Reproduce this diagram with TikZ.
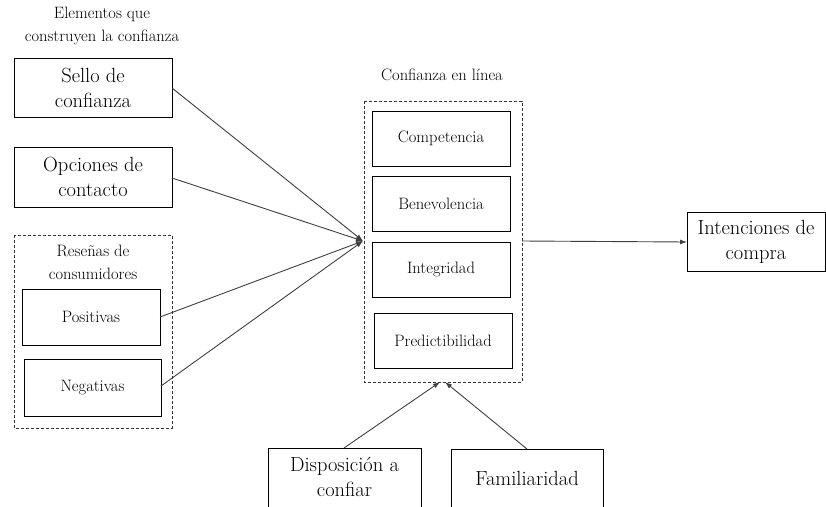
\documentclass[tikz,border=0pt]{standalone}
\usepackage{fontspec}
\usetikzlibrary{arrows.meta}
\tikzset{
  big/.style={font=\fontsize{20.5}{25}\selectfont},
  small/.style={font=\fontsize{16.5}{22.5}\selectfont},
  box/.style={draw=black, line width=0.9pt, inner sep=0pt},
  group/.style={draw=black!80, dashed, dash pattern=on 3pt off 2pt, line width=0.8pt},
  link/.style={draw=black!75, line width=0.9pt},
  tip/.style={-{Latex[length=7pt,width=5pt]}},
}
\begin{document}
\begin{tikzpicture}[x=1pt,y=-1pt]
\useasboundingbox (0,0) rectangle (826,506);
\clip (0,0) rectangle (826,506);
\fill[white] (0,0) rectangle (826,506);

% heading of the left column
\node[small, align=center] (hdr) at (102,26) {Elementos que\\construyen la confianza};

% left column boxes
\draw[box] (14,58) rectangle (172,117);
\node[big, align=center] (sello) at (93,87.5) {Sello de\\confianza};
\coordinate (selloE) at (172,88);

\draw[box] (14,147) rectangle (172,207);
\node[big, align=center] (opc) at (93,177) {Opciones de\\contacto};
\coordinate (opcE) at (172,178);

% consumer reviews group
\draw[group] (14,235) rectangle (172,428);
\node[small, align=center] (res) at (93,262.5) {Reseñas de\\consumidores};
\draw[box] (22,289) rectangle (160,345);
\node[small] (pos) at (91,317) {Positivas};
\coordinate (posE) at (160,317);
\draw[box] (24,359) rectangle (161,416);
\node[small] (neg) at (92.5,387.5) {Negativas};
\coordinate (negE) at (161,386);

% online trust group
\node[small] (conf) at (442,75) {Confianza en línea};
\draw[group] (364,101) rectangle (522,382);
\draw[box] (372,111) rectangle (510,166);
\node[small] (comp) at (441,138.5) {Competencia};
\draw[box] (372,176) rectangle (510,231);
\node[small] (bene) at (441,203.5) {Benevolencia};
\draw[box] (372,242) rectangle (510,297);
\node[small] (inte) at (441,269.5) {Integridad};
\draw[box] (374,313) rectangle (512,368);
\node[small] (pred) at (443,340.5) {Predictibilidad};
\coordinate (hub) at (363,241);
\coordinate (grpE) at (522,241);
\coordinate (grpS1) at (440,382);
\coordinate (grpS2) at (445,382);

% purchase intention
\draw[box] (687,212) rectangle (825.5,271);
\node[big, align=center] (int) at (756,241.5) {Intenciones de\\compra};
\coordinate (intW) at (687,242);

% bottom boxes (cut by the lower edge)
\draw[box] (268,448) rectangle (421,530);
\node[big, align=center] (disp) at (344.5,477) {Disposición a\\confiar};
\coordinate (dispN) at (344,448);
\draw[box] (451,449) rectangle (603,530);
\node[big] (fam) at (527,478) {Familiaridad};
\coordinate (famN) at (527,449);

% connectors
\draw[link, tip] (selloE) -- (hub);
\draw[link, tip] (opcE) -- (hub);
\draw[link, tip] (posE) -- (hub);
\draw[link, tip] (negE) -- (hub);
\draw[link, tip] (grpE) -- (intW);
\draw[link, tip] (dispN) -- (grpS1);
\draw[link, tip] (famN) -- (grpS2);
\end{tikzpicture}
\end{document}
